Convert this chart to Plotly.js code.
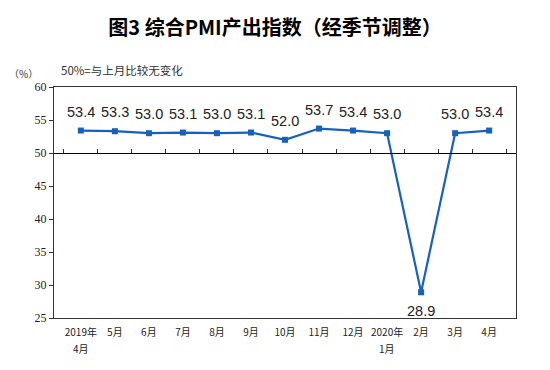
<!DOCTYPE html>
<html><head><meta charset="utf-8">
<script src="https://cdn.plot.ly/plotly-3.0.1.min.js"></script>
<style>html,body{margin:0;padding:0;background:#fff;}#chart{width:550px;height:370px;}</style>
</head><body><div id="chart"></div>
<script>
const months = ["4月","5月","6月","7月","8月","9月","10月","11月","12月","1月","2月","3月","4月"];
const years = ["2019年","","","","","","","","","2020年","","",""];
const pmiOutput = [53.4,53.3,53.0,53.1,53.0,53.1,52.0,53.7,53.4,53.0,28.9,53.0,53.4];
const yTicks = [25,30,35,40,45,50,55,60];
const baseline = 50;

// unique category keys, first-line tick text, second line for year-start months
const cats = months.map((m,i)=>"c"+i);
const topLine = months.map((m,i)=> years[i] ? years[i] : m);

const lineColor = "#1660BE";
const annotations = cats.map((c,i)=>({
  x: c, y: pmiOutput[i], xref:"x", yref:"y",
  text: pmiOutput[i].toFixed(1), showarrow:false,
  yshift: pmiOutput[i] < baseline ? -19 : 19,
  font:{family:"Liberation Sans, Arial, sans-serif", size:14.5, color:"#222"}
}));
cats.forEach((c,i)=>{
  if (years[i]) annotations.push({x:c, xref:"x", y:0, yref:"paper", yanchor:"middle", yshift:-30,
    text: months[i], showarrow:false, font:{family:"Noto Sans CJK SC", size:10, color:"#222"}});
});
annotations.push({xref:"paper", yref:"paper", x:-0.065, y:1.06, xanchor:"center", yanchor:"middle",
  text:"（%）", showarrow:false, font:{family:"Noto Sans CJK SC", size:10, color:"#333"}});
annotations.push({xref:"paper", yref:"paper", x:0.01, y:1.075, xanchor:"left", yanchor:"middle",
  text:"50%=与上月比较无变化", showarrow:false, font:{family:"Noto Sans CJK SC", size:11.5, color:"#333"}});

const data = [
  {x: cats, y: pmiOutput, type:"scatter", mode:"lines+markers", xaxis:"x", yaxis:"y",
   line:{color:lineColor, width:2.2}, marker:{symbol:"square", size:6, color:lineColor}, hoverinfo:"none"},
  {x: cats, y: cats.map(()=>baseline), type:"scatter", mode:"lines", xaxis:"x2", yaxis:"y",
   line:{color:"rgba(0,0,0,0)", width:0}, hoverinfo:"none"}
];

const layout = {
  width:550, height:370,
  margin:{l:54, r:34, t:87, b:52},
  paper_bgcolor:"#fff", plot_bgcolor:"#fff",
  showlegend:false,
  title:{text:"<b>图3 综合PMI产出指数（经季节调整）</b>", x:0.5, xanchor:"center", y:0.925, yanchor:"middle",
    font:{family:"Noto Sans CJK SC", size:20, color:"#000"}},
  xaxis:{type:"category", tickmode:"array", tickvals:cats, ticktext:topLine,
    showline:true, linecolor:"#333", linewidth:1, mirror:true, ticks:"",
    ticklabelstandoff:5,
    showgrid:false, zeroline:false, tickfont:{family:"Noto Sans CJK SC", size:10, color:"#222"}},
  xaxis2:{type:"category", overlaying:"x", anchor:"free", position:(baseline-25)/35, side:"bottom",
    showline:true, linecolor:"#000", linewidth:1, ticks:"inside", ticklen:4, tickcolor:"#333",
    tickson:"boundaries", showticklabels:false, showgrid:false, zeroline:false, matches:"x"},
  yaxis:{range:[25,60], tickvals:yTicks, ticks:"outside", ticklen:4, tickcolor:"#333",
    showline:true, linecolor:"#333", linewidth:1, mirror:true, showgrid:false, zeroline:false,
    tickfont:{family:"Liberation Serif, Times New Roman, serif", size:12, color:"#222"}},
  annotations: annotations
};
Plotly.newPlot("chart", data, layout, {staticPlot:true, displayModeBar:false});
</script></body></html>
